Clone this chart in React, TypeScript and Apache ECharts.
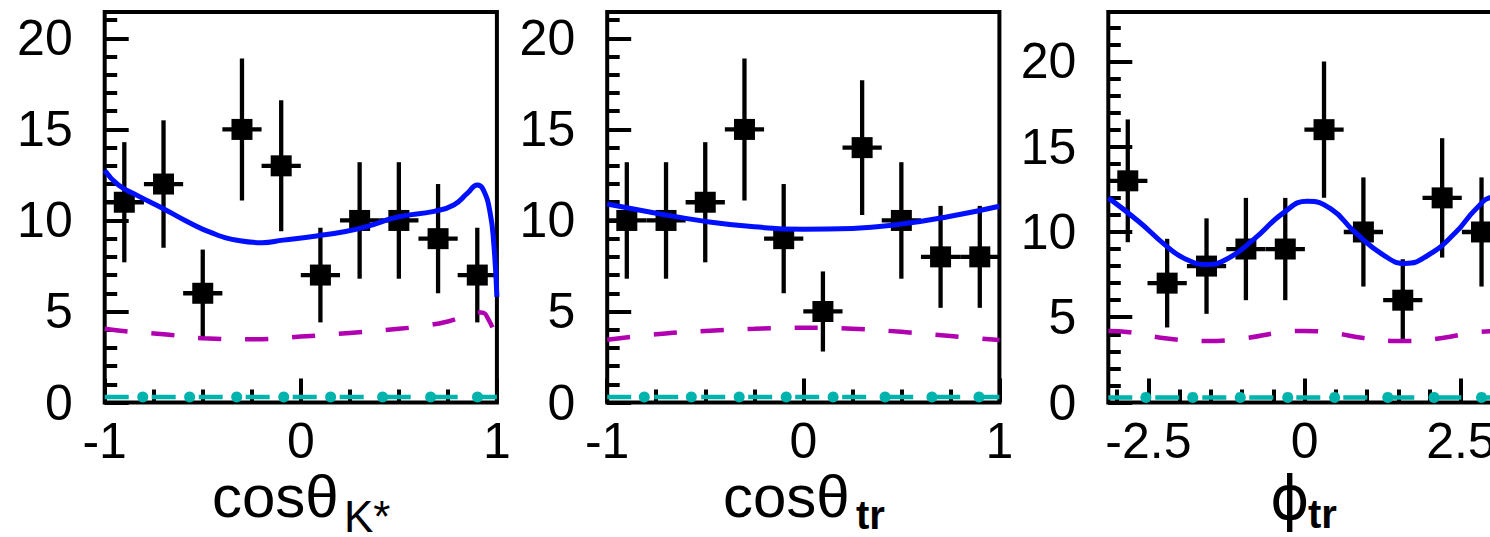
import React, { useEffect, useRef } from "react";
import * as echarts from "echarts";

// ---------------- data ----------------
const cosBinCenters = [-0.9, -0.7, -0.5, -0.3, -0.1, 0.1, 0.3, 0.5, 0.7, 0.9];
const cosBinHalfWidth = 0.1;
const phiBinCenters = [-2.83, -2.2, -1.57, -0.94, -0.31, 0.31, 0.94, 1.57, 2.2, 2.83];
const phiBinHalfWidth = 0.314;

const countsCosK = [11, 12, 6, 15, 13, 7, 10, 10, 9, 7];
const errorsCosK = [3.3, 3.5, 2.4, 3.9, 3.6, 2.6, 3.2, 3.2, 3.0, 2.6];
const countsCosTr = [10, 10, 11, 15, 9, 5, 14, 10, 8, 8];
const errorsCosTr = [3.2, 3.2, 3.3, 3.9, 3.0, 2.2, 3.7, 3.2, 2.8, 2.8];
const countsPhiTr = [13, 7, 8, 9, 9, 16, 10, 6, 12, 10];
const errorsPhiTr = [3.6, 2.6, 2.8, 3.0, 3.0, 4.0, 3.2, 2.4, 3.5, 3.2];

// total fit (blue)
const totalCosK = [
  [-1, 12.75], [-0.93, 11.95], [-0.83, 11.35], [-0.71, 10.7], [-0.59, 10.0], [-0.45, 9.3],
  [-0.31, 8.88], [-0.2, 8.78], [-0.09, 8.92], [0.08, 9.15], [0.22, 9.38], [0.33, 9.65],
  [0.5, 10.2], [0.68, 10.5], [0.78, 10.85], [0.85, 11.5], [0.9, 11.95], [0.93, 11.7],
  [0.965, 10.45], [0.985, 8.6], [1, 5.8],
];
const totalCosTr = [
  [-1, 10.9], [-0.75, 10.4], [-0.5, 9.95], [-0.25, 9.65], [0, 9.52], [0.25, 9.56],
  [0.5, 9.8], [0.75, 10.23], [1, 10.78],
];
const totalPhiTr = [
  [-3.14, 12.0], [-2.65, 10.6], [-2.22, 9.2], [-1.9, 8.4], [-1.57, 8.1], [-1.25, 8.4],
  [-0.82, 9.55], [-0.33, 11.15], [0.04, 11.8], [0.42, 11.35], [0.8, 10.0], [1.28, 8.6],
  [1.61, 8.15], [1.98, 8.65], [2.41, 9.95], [2.74, 11.35], [3.0, 12.05], [3.14, 12.1],
];

// second fit component (magenta dashed)
const compCosK = [
  [-1, 4.05], [-0.88, 3.9], [-0.7, 3.75], [-0.5, 3.53], [-0.25, 3.47], [0, 3.62], [0.25, 3.82],
  [0.5, 4.05], [0.6, 4.17], [0.75, 4.45], [0.85, 4.8], [0.92, 4.95], [0.96, 4.5], [0.99, 3.7],
];
const compCosTr = [
  [-1, 3.45], [-0.75, 3.75], [-0.5, 3.93], [-0.25, 4.05], [0, 4.1], [0.25, 4.05],
  [0.5, 3.88], [0.75, 3.65], [1, 3.43],
];
const compPhiTr = [
  [-3.14, 4.2], [-2.8, 4.12], [-2.2, 3.75], [-1.57, 3.6], [-0.94, 3.78], [-0.4, 4.1], [0, 4.2],
  [0.5, 4.05], [0.94, 3.78], [1.57, 3.6], [2.2, 3.78], [2.7, 4.1], [3.14, 4.2],
];

// flat background component (teal dash-dot)
const bkgLevel = 0.3;
const bkgDotsCos = [-0.806, -0.567, -0.327, -0.087, 0.152, 0.417, 0.662, 0.901];
const bkgDotsCosTr = [-0.811, -0.571, -0.327, -0.087, 0.152, 0.417, 0.656, 0.896];
const bkgDotsPhi = [-2.54, -1.79, -1.03, -0.27, 0.48, 1.33, 2.07, 2.83];

// ticks
const yMajorTicks = [0, 5, 10, 15, 20];
const phiMajorTicks = [-2.5, 0, 2.5];
const phiMinorTicks = [-3, -2, -1.5, -1, -0.5, 0.5, 1, 1.5, 2, 3];

// ---------------- styling ----------------
const FONT = "'Liberation Sans', Arial, Helvetica, sans-serif";
const BLUE = "#0010ff";
const MAGENTA = "#b000b0";
const TEAL = "#00b3ad";

const layout = [
  { left: 104.7, top: 12, width: 392.2, height: 390.5 },
  { left: 607.2, top: 12, width: 392.2, height: 390.5 },
  { left: 1108.3, top: 12, width: 392.7, height: 390.5 },
];

const panels = [
  { bins: cosBinCenters, hw: cosBinHalfWidth, counts: countsCosK, errs: errorsCosK, total: totalCosK, comp: compCosK, dots: bkgDotsCos, xmin: -1, xmax: 1, ymax: 21.45 },
  { bins: cosBinCenters, hw: cosBinHalfWidth, counts: countsCosTr, errs: errorsCosTr, total: totalCosTr, comp: compCosTr, dots: bkgDotsCosTr, xmin: -1, xmax: 1, ymax: 21.45 },
  { bins: phiBinCenters, hw: phiBinHalfWidth, counts: countsPhiTr, errs: errorsPhiTr, total: totalPhiTr, comp: compPhiTr, dots: bkgDotsPhi, xmin: -Math.PI, xmax: Math.PI, ymax: 22.9 },
];

function buildOption() {
  const tickLine = { color: "#000", width: 4 };
  const labelBase = { fontSize: 50, color: "#000", fontFamily: FONT };
  const noLine = { show: false, onZero: false };

  const grid = layout.map((g) => ({
    ...g,
    show: true,
    borderColor: "#000",
    borderWidth: 4,
    backgroundColor: "transparent",
  }));

  const xAxis: any[] = [
    {
      gridIndex: 0, type: "value", min: -1, max: 1, interval: 1, position: "bottom",
      axisLine: noLine,
      axisTick: { inside: true, length: 24, lineStyle: tickLine },
      minorTick: { show: true, splitNumber: 4, length: 13, lineStyle: tickLine },
      axisLabel: { ...labelBase, margin: 13 },
      splitLine: { show: false }, minorSplitLine: { show: false },
    },
    {
      gridIndex: 1, type: "value", min: -1, max: 1, interval: 1, position: "bottom",
      axisLine: noLine,
      axisTick: { inside: true, length: 24, lineStyle: tickLine },
      minorTick: { show: true, splitNumber: 4, length: 13, lineStyle: tickLine },
      axisLabel: { ...labelBase, margin: 13 },
      splitLine: { show: false }, minorSplitLine: { show: false },
    },
    {
      gridIndex: 2, type: "value", min: -Math.PI, max: Math.PI, position: "bottom",
      axisLine: noLine,
      axisTick: { inside: true, length: 24, lineStyle: tickLine, customValues: phiMajorTicks },
      axisLabel: { ...labelBase, margin: 13, customValues: phiMajorTicks },
      splitLine: { show: false },
    },
    {
      gridIndex: 2, type: "value", min: -Math.PI, max: Math.PI, position: "bottom",
      axisLine: noLine,
      axisTick: { inside: true, length: 13, lineStyle: tickLine, customValues: phiMinorTicks },
      axisLabel: { show: false },
      splitLine: { show: false },
    },
  ];

  const yAxis: any[] = [];
  panels.forEach((p, i) => {
    yAxis.push({
      gridIndex: i, type: "value", min: 0, max: p.ymax, position: "left",
      axisLine: noLine,
      axisTick: { inside: true, length: 24, lineStyle: tickLine, customValues: yMajorTicks },
      axisLabel: { ...labelBase, margin: 32, customValues: yMajorTicks },
      splitLine: { show: false },
    });
    yAxis.push({
      gridIndex: i, type: "value", min: 0, max: p.ymax, interval: 1, position: "left",
      axisLine: noLine,
      axisTick: { inside: true, length: 12.5, lineStyle: tickLine },
      axisLabel: { show: false },
      splitLine: { show: false },
    });
  });

  const series: any[] = [];
  panels.forEach((p, i) => {
    const xi = i;
    const yi = 2 * i;
    series.push({
      type: "custom",
      xAxisIndex: xi,
      yAxisIndex: yi,
      z: 3,
      data: p.counts.map((c, k) => [p.bins[k], c, p.errs[k], p.hw]),
      renderItem: (params: any, api: any) => {
        const x = api.value(0);
        const y = api.value(1);
        const e = api.value(2);
        const hw = api.value(3);
        const top = api.coord([x, y + e]);
        const bot = api.coord([x, y - e]);
        const l = api.coord([x - hw, y]);
        const r = api.coord([x + hw, y]);
        const st = { stroke: "#000", lineWidth: 4.3 };
        return {
          type: "group",
          children: [
            { type: "line", shape: { x1: top[0], y1: top[1], x2: bot[0], y2: bot[1] }, style: st },
            { type: "line", shape: { x1: l[0], y1: l[1], x2: r[0], y2: r[1] }, style: st },
          ],
        };
      },
    });
    series.push({
      type: "scatter",
      xAxisIndex: xi,
      yAxisIndex: yi,
      z: 4,
      symbol: "rect",
      symbolSize: 21,
      itemStyle: { color: "#000", opacity: 1 },
      data: p.counts.map((c, k) => [p.bins[k], c]),
    });
    series.push({
      type: "line",
      xAxisIndex: xi,
      yAxisIndex: yi,
      z: 5,
      data: [[p.xmin, bkgLevel], [p.xmax, bkgLevel]],
      showSymbol: false,
      lineStyle: { color: TEAL, width: 4.5, type: [24, 23] },
    });
    series.push({
      type: "scatter",
      xAxisIndex: xi,
      yAxisIndex: yi,
      z: 5,
      symbol: "circle",
      symbolSize: 11,
      itemStyle: { color: TEAL, opacity: 1 },
      data: p.dots.map((d) => [d, bkgLevel]),
    });
    series.push({
      type: "line",
      xAxisIndex: xi,
      yAxisIndex: yi,
      z: 6,
      data: p.comp,
      smooth: 0.5,
      showSymbol: false,
      lineStyle: { color: MAGENTA, width: 4.5, type: [23, 24] },
    });
    series.push({
      type: "line",
      xAxisIndex: xi,
      yAxisIndex: yi,
      z: 7,
      data: p.total,
      smooth: 0.5,
      showSymbol: false,
      lineStyle: { color: BLUE, width: 5 },
    });
  });

  const titleStyle = (text: string, size: number, weight: string = "normal", family: string = FONT) => ({
    text,
    fontSize: size,
    fontFamily: family,
    fontWeight: weight,
    lineHeight: Math.round(size * 0.7),
    fill: "#000",
    align: "left",
    verticalAlign: "middle",
  });

  const graphic = [
    { type: "text", x: 212, y: 496, style: titleStyle("cosθ", 60) },
    { type: "text", x: 344, y: 516, style: titleStyle("K*", 44) },
    { type: "text", x: 723, y: 496, style: titleStyle("cosθ", 60) },
    { type: "text", x: 856, y: 515, style: titleStyle("tr", 40, "bold") },
    { type: "text", x: 1270, y: 498, style: titleStyle("ϕ", 60, "normal", "'DejaVu Sans', sans-serif") },
    { type: "text", x: 1308, y: 514, style: titleStyle("tr", 40, "bold") },
  ];

  return {
    animation: false,
    backgroundColor: "#fff",
    grid,
    xAxis,
    yAxis,
    series,
    graphic,
  };
}

export default function App() {
  const ref = useRef<HTMLDivElement>(null);
  useEffect(() => {
    if (!ref.current) return;
    const chart = echarts.init(ref.current, undefined, { renderer: "svg" });
    chart.setOption(buildOption() as any);
    return () => chart.dispose();
  }, []);
  return (
    <div
      style={{
        position: "absolute",
        left: 0,
        top: 0,
        width: 1490,
        height: 537,
        overflow: "hidden",
        background: "#fff",
      }}
    >
      <div ref={ref} style={{ width: 1520, height: 537 }} />
    </div>
  );
}
